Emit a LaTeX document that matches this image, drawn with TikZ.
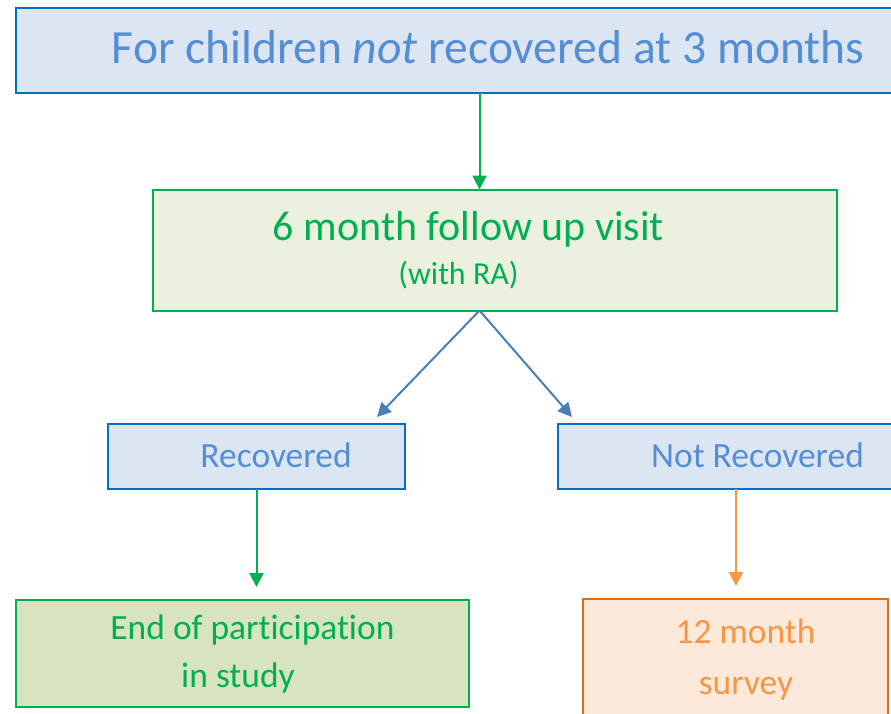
\documentclass[tikz,border=0pt]{standalone}
\usepackage{fontspec}
\setmainfont[Ligatures=NoCommon]{Carlito}
\usetikzlibrary{arrows.meta}
\definecolor{bluefill}{HTML}{DCE6F2}
\definecolor{blueline}{HTML}{0070C0}
\definecolor{bluetext}{HTML}{558ED5}
\definecolor{bluearrow}{HTML}{4A7EBB}
\definecolor{greenline}{HTML}{00B050}
\definecolor{greenfillA}{HTML}{EBF1DE}
\definecolor{greenfillB}{HTML}{D7E4BD}
\definecolor{orangefill}{HTML}{FDE9D9}
\definecolor{orangeline}{HTML}{E46C0A}
\definecolor{orangetext}{HTML}{F79646}
\tikzset{
  box/.style={draw, line width=2pt, inner sep=0pt, outer sep=0pt},
  bluebox/.style={box, draw=blueline, fill=bluefill},
  txt/.style={inner sep=0pt, anchor=base},
  arr/.style={line width=2pt, -{Triangle[length=14pt,width=14pt]}},
}
\begin{document}
\begin{tikzpicture}[x=1pt,y=-1pt]
\clip (0,0) rectangle (891,713);
\useasboundingbox (0,0) rectangle (891,713);
\fill[white] (0,0) rectangle (891,713);
% boxes
\node[bluebox, minimum width=884pt, minimum height=85pt] (top) at (458,50) {};
\node[box, draw=greenline, fill=greenfillA, minimum width=684pt, minimum height=121pt] (visit) at (495,250) {};
\node[bluebox, minimum width=297pt, minimum height=65pt] (rec) at (256.5,456.5) {};
\node[bluebox, minimum width=342pt, minimum height=65pt] (notrec) at (729,456.5) {};
\node[box, draw=greenline, fill=greenfillB, minimum width=453pt, minimum height=107pt] (end) at (242.5,653.5) {};
\node[box, draw=orangeline, fill=orangefill, minimum width=305pt, minimum height=131pt] (survey) at (735.5,664.5) {};
% texts
\node[txt, text=bluetext, font=\fontsize{47.6}{50}\selectfont] (ttop) at (488,63) {For children \textit{not} recovered at 3 months};
\node[txt, text=greenline, font=\fontsize{42}{46}\selectfont] (tvisit) at (468.5,240) {6 month follow up visit};
\node[txt, text=greenline, font=\fontsize{32}{36}\selectfont] (tra) at (458.5,284) {(with RA)};
\node[txt, text=bluetext, font=\fontsize{35.5}{40}\selectfont] (trec) at (276,467) {Recovered};
\node[txt, text=bluetext, font=\fontsize{35.5}{40}\selectfont] (tnotrec) at (757.5,467) {Not Recovered};
\node[txt, text=greenline, font=\fontsize{35.5}{40}\selectfont] (tend1) at (252.5,639) {End of participation};
\node[txt, text=greenline, font=\fontsize{35.5}{40}\selectfont] (tend2) at (238,687) {in study};
\node[txt, text=orangetext, font=\fontsize{35.5}{40}\selectfont] (tsur1) at (745.5,643) {12 month};
\node[txt, text=orangetext, font=\fontsize{35.5}{40}\selectfont] (tsur2) at (746,694) {survey};
% connector coordinates
\coordinate (xa) at (479.5,0);
\coordinate (xl) at (256.5,0);
\coordinate (xr) at (736,0);
\coordinate (recin) at (377,417);
\coordinate (notrecin) at (572,417);
% connectors
\draw[arr, greenline] (top.south -| xa) -- (visit.north -| xa);
\draw[arr, bluearrow] (visit.south -| xa) -- (recin);
\draw[arr, bluearrow] (visit.south -| xa) -- (notrecin);
\draw[arr, greenline, shorten >=13pt] (rec.south -| xl) -- (end.north -| xl);
\draw[arr, orangetext, shorten >=13pt] (notrec.south -| xr) -- (survey.north -| xr);
\end{tikzpicture}
\end{document}
